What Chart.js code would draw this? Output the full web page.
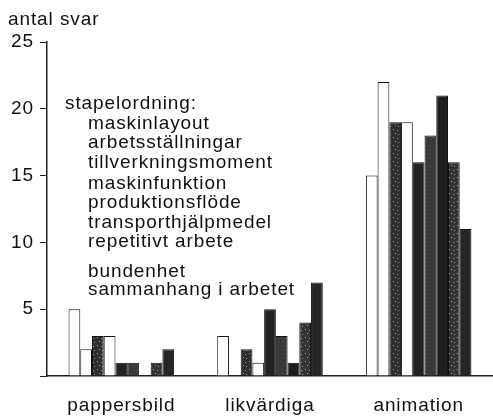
<!DOCTYPE html>
<html>
<head>
<meta charset="utf-8">
<script src="https://cdn.jsdelivr.net/npm/chart.js@4/dist/chart.umd.min.js"></script>
<style>
  html, body { margin: 0; padding: 0; background: #fff; }
  #wrap { width: 493px; height: 416px; }
</style>
</head>
<body>
<div id="wrap"><canvas id="myChart" width="493" height="416"></canvas></div>
<script>
// categories (x axis)
const groups = ['pappersbild', 'likvärdiga', 'animation'];

// series, in the order of "stapelordning"
const seriesNames = [
    'maskinlayout',
    'arbetsställningar',
    'tillverkningsmoment',
    'maskinfunktion',
    'produktionsflöde',
    'transporthjälpmedel',
    'repetitivt arbete',
    'bundenhet',
    'sammanhang i arbetet'
];

// values per series: [pappersbild, likvärdiga, animation]
const maskinlayout = [5, 3, 15];
const arbetsstallningar = [2, 0, 22];
const tillverkningsmoment = [3, 2, 19];
const maskinfunktion = [3, 1, 19];
const produktionsflode = [1, 5, 16];
const transporthjalpmedel = [1, 3, 18];
const repetitivtArbete = [0, 1, 21];
const bundenhet = [1, 4, 16];
const sammanhang = [2, 7, 11];

const yTicks = [0, 5, 10, 15, 20, 25];

const FONT = '"Liberation Sans", Arial, sans-serif';
const SPACING = '0.9px';

// small speckled fill for the dotted bars
function speckle(base, dots) {
    const c = document.createElement('canvas');
    c.width = 8; c.height = 8;
    const g = c.getContext('2d');
    g.fillStyle = base;
    g.fillRect(0, 0, 8, 8);
    g.fillStyle = dots;
    g.fillRect(1, 1, 1, 1);
    g.fillRect(5, 2, 1, 1);
    g.fillRect(3, 5, 1, 1);
    g.fillRect(6, 6, 1, 1);
    return g.createPattern(c, 'repeat');
}

const white = '#ffffff';
const fills = [
    white,
    white,
    speckle('#2e2e2e', '#9a9a9a'),
    white,
    '#222222',
    speckle('#383838', '#555555'),
    '#1e1e1e',
    speckle('#333333', '#a0a0a0'),
    '#262626'
];

const allValues = [maskinlayout, arbetsstallningar, tillverkningsmoment, maskinfunktion,
    produktionsflode, transporthjalpmedel, repetitivtArbete, bundenhet, sammanhang];

const datasets = seriesNames.map((name, i) => ({
    label: name,
    data: allValues[i],
    backgroundColor: fills[i],
    borderColor: '#111111',
    borderWidth: 1,
    borderSkipped: 'bottom'
}));

// axis title and the "stapelordning" note, plus the wide letter spacing of the original
const textPlugin = {
    id: 'textPlugin',
    beforeDraw(chart) {
        chart.ctx.letterSpacing = SPACING;
    },
    afterDraw(chart) {
        const ctx = chart.ctx;
        ctx.save();
        ctx.letterSpacing = SPACING;
        ctx.fillStyle = '#111';
        ctx.textBaseline = 'middle';
        ctx.textAlign = 'left';
        ctx.font = '19px ' + FONT;
        ctx.fillText('antal svar', 8, 20);

        ctx.fillText('stapelordning:', 65, 104);
        const ys = [124, 143, 163, 184, 203, 223, 242, 272, 290];
        seriesNames.forEach((n, i) => ctx.fillText(n, 88, ys[i]));
        ctx.restore();
    }
};

new Chart(document.getElementById('myChart'), {
    type: 'bar',
    data: { labels: groups, datasets: datasets },
    options: {
        responsive: false,
        animation: false,
        layout: { padding: { top: 42, right: 0, left: 0, bottom: 0 } },
        datasets: { bar: { categoryPercentage: 0.71, barPercentage: 1.0 } },
        plugins: {
            legend: { display: false },
            tooltip: { enabled: false }
        },
        scales: {
            x: {
                grid: { display: false, drawTicks: false },
                border: { display: true, color: '#222', width: 1.5 },
                ticks: { color: '#111', font: { size: 19, family: FONT }, padding: 18 },
                afterFit(scale) { scale.height = 40; }
            },
            y: {
                min: 0,
                max: 25,
                afterBuildTicks(scale) { scale.ticks = yTicks.map(v => ({ value: v })); },
                grid: { drawOnChartArea: false, drawTicks: true, tickLength: 7, color: '#222' },
                border: { display: true, color: '#222', width: 1.5 },
                ticks: {
                    color: '#111',
                    font: { size: 19, family: FONT },
                    padding: 6,
                    callback: v => (v === 0 ? '' : v)
                },
                afterFit(scale) { scale.width = 47; }
            }
        }
    },
    plugins: [textPlugin]
});
</script>
</body>
</html>
